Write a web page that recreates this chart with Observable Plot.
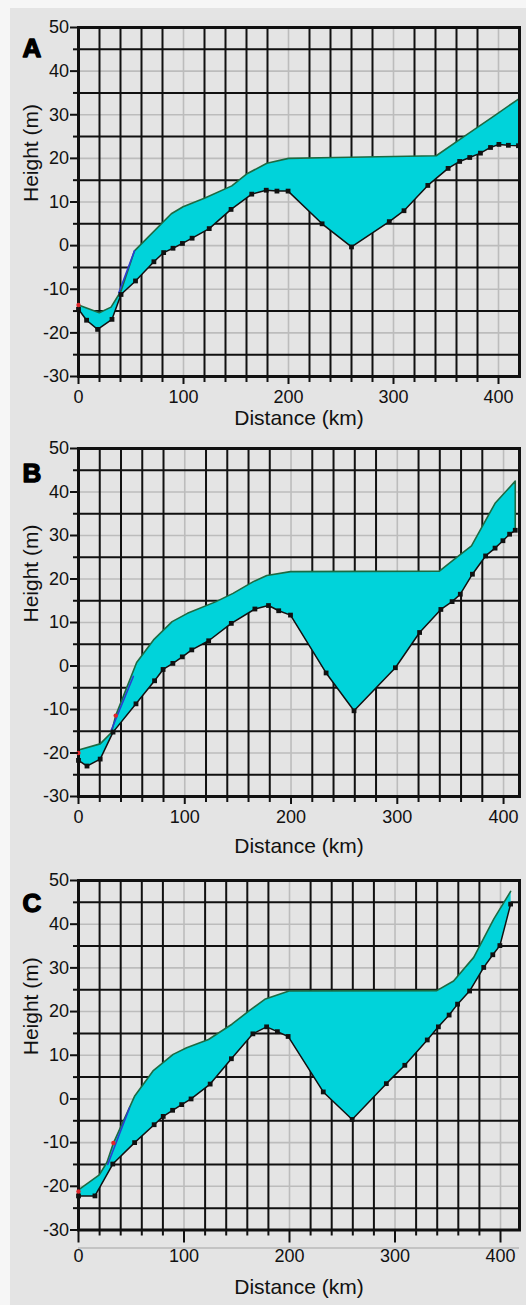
<!DOCTYPE html>
<html><head><meta charset="utf-8">
<script src="https://cdn.jsdelivr.net/npm/d3@7"></script>
<script src="https://cdn.jsdelivr.net/npm/@observablehq/plot@0.6"></script>
<style>
html,body{margin:0;padding:0;background:#f6f6f6;}
#page{position:relative;width:526px;height:1305px;overflow:hidden;font-family:"Liberation Sans",Arial,sans-serif;}
#bg{position:absolute;left:10px;top:8px;right:0;bottom:0;background:#e4e4e4;}
.panel{position:absolute;left:0;}
.panel svg{display:block;overflow:visible;font-family:"Liberation Sans",Arial,sans-serif;}
</style></head><body>
<div id="page"><div id="bg"></div>
<div class="panel" id="pA" style="top:0px"></div>
<div class="panel" id="pB" style="top:432px"></div>
<div class="panel" id="pC" style="top:860px"></div>
</div>
<script>
// ---- tick / grid values ----
const xMajor = [0, 100, 200, 300, 400];
const yMajor = [-30, -20, -10, 0, 10, 20, 30, 40, 50];
const xMinor = [20, 40, 60, 80, 120, 140, 160, 180, 220, 240, 260, 280, 320, 340, 360, 380];
const yMinor = [-25, -15, -5, 5, 15, 25, 35, 45];
const xTitle = "Distance (km)";
const yTitle = "Height (m)";

// ---- Panel A ----
const xA_low = [0, 7.7, 18.2, 31.9, 40.5, 54.3, 71.8, 81.1, 90, 99, 108.2, 124.5, 145.3, 165, 178.8, 189, 199.6, 232, 260, 296, 310, 332.7, 352, 363, 372.6, 382.8, 392.4, 400.4, 409.4, 419];
const yA_low = [-14.6, -17.1, -19.2, -16.9, -11.2, -8.1, -3.7, -1.6, -0.6, 0.5, 1.7, 3.9, 8.3, 11.8, 12.7, 12.5, 12.5, 5.0, -0.3, 5.5, 8.0, 13.8, 17.7, 19.3, 20.2, 21.2, 22.5, 23.2, 23.0, 22.9];
const xA_up = [0, 19.8, 31, 40.5, 53.3, 88.4, 99.6, 120.4, 146, 160, 179.4, 200, 244.9, 340.7, 366, 398, 419];
const yA_up = [-13.6, -15.4, -14.1, -10.4, -1.2, 7.3, 8.9, 10.9, 13.7, 16.4, 18.9, 20.0, 20.2, 20.6, 24.8, 30.1, 33.6];
const xA_blue = [38.4, 53.3];
const yA_blue = [-10.8, -1.2];
const xA_red = [0];
const yA_red = [-13.6];

// ---- Panel B ----
const xB_low = [0, 8, 20.4, 32.5, 54.1, 71.6, 79.6, 88.8, 97.7, 106.6, 122.5, 143.8, 166, 178.8, 188.4, 199.5, 233, 259.3, 298.2, 321, 341, 351.6, 359.3, 370.7, 383.1, 392, 399.4, 405.7, 411];
const yB_low = [-21.7, -23.0, -21.4, -15.2, -8.7, -3.4, -0.8, 0.6, 2.1, 3.7, 5.8, 9.8, 13.1, 13.9, 12.7, 11.7, -1.6, -10.3, -0.4, 7.7, 13.0, 14.8, 16.5, 21.1, 25.3, 27.1, 28.8, 30.3, 31.2];
const xB_up = [0, 20.4, 31, 35, 54.7, 70.6, 88.1, 102.5, 129.5, 145.4, 164.5, 177.2, 199.5, 339.6, 352.3, 369.8, 392, 411, 411];
const yB_up = [-19.3, -17.9, -15.3, -11.4, 0.8, 6.0, 10.2, 12.1, 14.8, 16.7, 19.4, 20.8, 21.7, 21.8, 24.3, 27.6, 37.4, 42.5, 31.2];
const xB_blue = [30.9, 51.6];
const yB_blue = [-14.7, -2.4];
const xB_red = [0, 35];
const yB_red = [-20.0, -11.4];

// ---- Panel C ----
const xC_low = [0, 15.6, 32.5, 53.2, 71.7, 80.3, 89.2, 97.8, 106.7, 124.8, 144.9, 165.3, 178.3, 188.5, 198.7, 232, 259.4, 291.8, 309.3, 330.6, 341.1, 351.3, 359.3, 370.7, 384.1, 392.7, 399.4, 409.6];
const yC_low = [-22.2, -22.2, -14.9, -10.0, -5.9, -4.0, -2.6, -1.3, 0.0, 3.4, 9.2, 14.9, 16.5, 15.4, 14.3, 1.6, -4.7, 3.5, 7.7, 13.5, 16.5, 19.2, 21.7, 24.7, 30.1, 33.0, 35.1, 44.6];
const xC_up = [0, 19.7, 27, 33.1, 53.1, 70.6, 89.7, 102.5, 123.2, 145.4, 161.3, 177.2, 199.5, 339.6, 355.5, 374.6, 393.7, 409.6];
const yC_up = [-20.8, -17.4, -14.5, -10.1, 0.6, 6.4, 10.2, 11.7, 13.6, 17.1, 20.1, 22.9, 24.7, 24.8, 27.0, 32.4, 41.2, 47.5];
const xC_blue = [27.7, 48.4];
const yC_blue = [-15.0, -2.0];
const xC_red = [0, 33.1];
const yC_red = [-21.2, -10.1];
const cBaseline = [-30];

const CYAN = "#00d3da";
const GREEN = "#1d6a42";
const INK = "#111";
const GRAY = "#bcbcbc";
const FONT = "Liberation Sans, Arial, sans-serif";
const fmt = d => String(d); // plain hyphen minus, as in the original

const pts = (xs, ys) => xs.map((x, i) => ({x, y: ys[i]}));

function panel(o) {
  const upper = pts(o.xu, o.yu), lower = pts(o.xl, o.yl);
  const poly = [...upper, ...lower.slice().reverse()];
  const xMin = xMinor.filter(v => v < o.xmax);
  const marks = [
    Plot.ruleX(xMajor.filter(v => v > 0 && v < o.xmax), {stroke: GRAY, strokeWidth: 1.6}),
    Plot.ruleY(yMajor.filter(v => v > -30 && v < 50), {stroke: GRAY, strokeWidth: 1.6}),
    Plot.ruleX(xMin, {stroke: INK, strokeWidth: 2}),
    Plot.ruleY(yMinor, {stroke: INK, strokeWidth: 2}),
    Plot.line(poly, {x: "x", y: "y", fill: CYAN, stroke: "none"}),
    Plot.line(upper, {x: "x", y: "y", stroke: GREEN, strokeWidth: 1.6}),
    Plot.line(pts(o.xb, o.yb), {x: "x", y: "y", stroke: "#2a3fd0", strokeWidth: 1.6}),
    Plot.line(lower, {x: "x", y: "y", stroke: INK, strokeWidth: 1.5}),
    Plot.frame({stroke: INK, strokeWidth: 3}),
    Plot.dot(lower, {x: "x", y: "y", symbol: "square", r: 2.7, fill: INK, stroke: "none"}),
    Plot.dot(pts(o.xr, o.yr), {x: "x", y: "y", r: 2.2, fill: "#e0262a", stroke: "none"}),
    Plot.axisX(xMin, {tickSize: 6, text: null, label: null, strokeWidth: 2, stroke: INK}),
    Plot.axisX(xMajor, {tickSize: o.xTick, tickPadding: o.xPad, tickFormat: fmt, fontSize: 18, fontFamily: FONT, fill: INK,
      strokeWidth: 2, stroke: INK, label: null}),
    Plot.axisY(yMinor, {tickSize: 5, text: null, label: null, strokeWidth: 2, stroke: INK}),
    Plot.axisY(yMajor, {tickSize: 8, tickPadding: 1.5, tickFormat: fmt, fontSize: 18, fontFamily: FONT, fill: INK,
      strokeWidth: 2, stroke: INK, label: null}),
    Plot.text([xTitle], {frameAnchor: "bottom", dy: o.xLab, text: d => d, fontSize: 21, fontFamily: FONT,
      fill: INK, lineAnchor: "middle"}),
    Plot.text([yTitle], {frameAnchor: "left", dx: -47, rotate: -90, text: d => d, fontSize: 21, fontFamily: FONT,
      fill: INK, lineAnchor: "middle"}),
    Plot.text([o.letter], {frameAnchor: "top-left", dx: -56, dy: o.letterDy, text: d => d, fontSize: 26,
      fontFamily: FONT, fontWeight: 900, textAnchor: "start", lineAnchor: "top", fill: "#000", stroke: "#000", strokeWidth: 1.4})
  ];
  if (o.baseline) marks.unshift(Plot.ruleY(o.baseline, {dy: 18, stroke: "#b8b8b8", strokeWidth: 1.5}));
  return Plot.plot({
    width: 526, height: o.height,
    marginLeft: 78, marginRight: 7, marginTop: o.mt, marginBottom: o.mb,
    x: {domain: [0, o.xmax]},
    y: {domain: [-30, 50]},
    style: {fontFamily: FONT, fontSize: "18px", color: INK, background: "none", overflow: "visible"},
    marks
  });
}

document.getElementById("pA").append(panel({
  letter: "A", xmax: 420, height: 432, mt: 27, mb: 56, xTick: 8, xPad: 5.3, xLab: 42, letterDy: 11.3,
  xu: xA_up, yu: yA_up, xl: xA_low, yl: yA_low, xb: xA_blue, yb: yA_blue, xr: xA_red, yr: yA_red
}));
document.getElementById("pB").append(panel({
  letter: "B", xmax: 415, height: 428, mt: 16, mb: 64, xTick: 8, xPad: 6, xLab: 50, letterDy: 15.5,
  xu: xB_up, yu: yB_up, xl: xB_low, yl: yB_low, xb: xB_blue, yb: yB_blue, xr: xB_red, yr: yB_red
}));
document.getElementById("pC").append(panel({
  letter: "C", xmax: 418, height: 445, mt: 20, mb: 75.5, xTick: 13, xPad: 6, xLab: 57.5, letterDy: 13.5, baseline: cBaseline,
  xu: xC_up, yu: yC_up, xl: xC_low, yl: yC_low, xb: xC_blue, yb: yC_blue, xr: xC_red, yr: yC_red
}));
</script></body></html>
